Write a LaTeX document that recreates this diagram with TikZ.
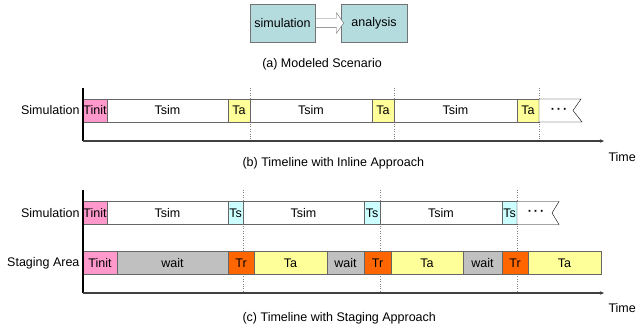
\documentclass[tikz,border=0pt]{standalone}
\usepackage{fontspec}
\setmainfont{Liberation Sans}
\usetikzlibrary{shapes.arrows,arrows.meta,calc}
\definecolor{stagebox}{HTML}{B4DCDF}
\definecolor{tinit}{HTML}{FF99CC}
\definecolor{ta}{HTML}{FFFF99}
\definecolor{ts}{HTML}{CCFFFF}
\definecolor{tr}{HTML}{FF6600}
\definecolor{wait}{HTML}{C0C0C0}
\newcommand{\moredots}{\textbf{·\hspace{2pt}·\hspace{2pt}·}}
\tikzstyle{block}=[rectangle,draw=black!55,fill=stagebox,minimum height=38pt,inner sep=0pt]
\tikzstyle{flow}=[single arrow,draw=black!60,fill=white,minimum height=28pt,minimum width=20pt,single arrow head extend=5.5pt,single arrow tip angle=110,inner sep=0pt]
\tikzstyle{seg}=[rectangle,draw=black!60,minimum height=23pt,inner sep=0pt,outer sep=0pt]
\tikzstyle{morebox}=[draw,black,fill=white]
\tikzstyle{guide}=[draw,black!50,dotted]
\tikzstyle{axis}=[draw,black,line width=1.3pt]
\tikzstyle{timeline}=[draw,black!75,line width=1.3pt,-{Stealth[length=4pt,width=3.5pt]}]

\begin{document}
\begin{tikzpicture}[x=1pt,y=-1pt,font=\fontsize{12.5}{15}\selectfont]
\useasboundingbox (0,0) rectangle (636,336);

    % (a) modeled scenario
    \node[block,minimum width=65pt] (sim) at (282.5,23) {simulation};
    \node[block,minimum width=66pt] (ana) at (374,23) {analysis};
    \node[flow] (flow) at ($(sim.east)!.5!(ana.west)$) {\rule{0pt}{9pt}};
    \node (capa) at (322,64) {(a) Modeled Scenario};

    % (b) inline
    \foreach \x in {250,394,539}
        \path[guide] (\x,88) -- (\x,141);
    \foreach \a/\b/\lab/\col/\name in {83/107/Tinit/tinit/bi, 107/228/Tsim/white/bs1, 228/250/Ta/ta/ba1,
        250/372/Tsim/white/bs2, 372/394/Ta/ta/ba2, 394/517/Tsim/white/bs3, 517/539/Ta/ta/ba3}
        {\pgfmathsetmacro\w{\b-\a}
        \node[seg,fill=\col,minimum width=\w pt] (\name) at ({(\a+\b)/2},110.5) {\lab};}
    \path[morebox] (ba3.north east) -- ++(42,0) -- ++(-8,11.5) -- ++(9,11.5) -- (ba3.south east) -- cycle;
    \path (ba3.east) ++(20,0) node (bdots) {\moredots};
    \node[anchor=east] (bsim) at (bi.west) {Simulation};

    \coordinate (bo) at (83,141);
    \coordinate (btop) at (83,88);
    \coordinate (bend) at (604,141);
    \path[axis] (btop) -- (bo);
    \path[timeline] (bo) -- (bend);
    \node[anchor=west] (btime) at (605,157) {Time};
    \node[anchor=west] (capb) at (239,163) {(b) Timeline with Inline Approach};

    % (c) staging
    \foreach \x in {243,380,517}
        \path[guide] (\x,190) -- (\x,293);
    \foreach \a/\b/\lab/\col/\name in {83/107/Tinit/tinit/ci, 107/228/Tsim/white/cs1, 228/243/Ts/ts/ct1,
        243/364/Tsim/white/cs2, 364/380/Ts/ts/ct2, 380/502/Tsim/white/cs3, 502/517/Ts/ts/ct3}
        {\pgfmathsetmacro\w{\b-\a}
        \node[seg,fill=\col,minimum width=\w pt] (\name) at ({(\a+\b)/2},213) {\lab};}
    \path[morebox] (ct3.north east) -- ++(42,0) -- ++(-7,11.5) -- ++(7,11.5) -- (ct3.south east) -- cycle;
    \path (ct3.east) ++(19,0) node (cdots) {\moredots};
    \node[anchor=east] (csim) at (ci.west) {Simulation};

    \foreach \a/\b/\lab/\col/\name in {83/117/Tinit/tinit/gi, 117/228/wait/wait/gw1, 228/254/Tr/tr/gr1,
        254/327/Ta/ta/ga1, 327/364/wait/wait/gw2, 364/391/Tr/tr/gr2, 391/463/Ta/ta/ga2,
        463/502/wait/wait/gw3, 502/528/Tr/tr/gr3, 528/601/Ta/ta/ga3}
        {\pgfmathsetmacro\w{\b-\a}
        \node[seg,fill=\col,minimum width=\w pt] (\name) at ({(\a+\b)/2},263) {\lab};}
    \node[anchor=east] (cstage) at (gi.west) {Staging Area};

    \coordinate (co) at (83,293);
    \coordinate (ctop) at (83,190);
    \coordinate (cend) at (604,293);
    \path[axis] (ctop) -- (co);
    \path[timeline] (co) -- (cend);
    \node[anchor=west] (ctime) at (605,308) {Time};
    \node[anchor=west] (capc) at (239,318) {(c) Timeline with Staging Approach};

\end{tikzpicture}
\end{document}
